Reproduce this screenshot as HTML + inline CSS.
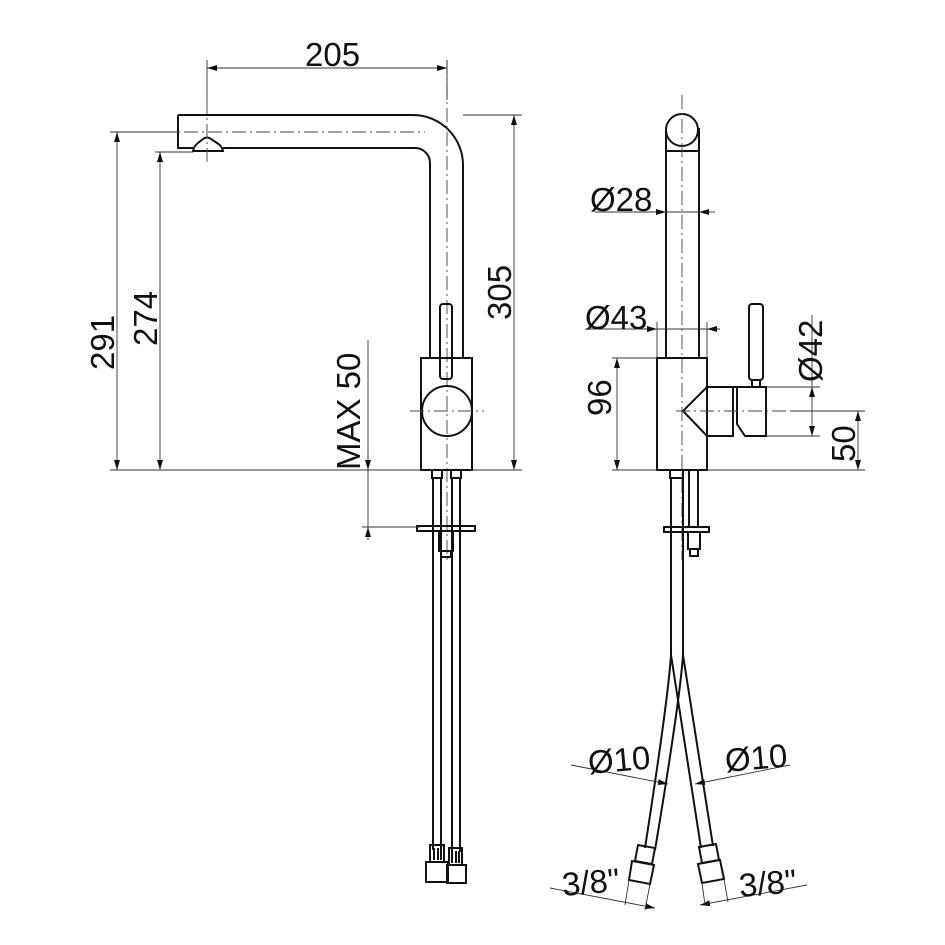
<!DOCTYPE html>
<html><head><meta charset="utf-8"><style>
html,body{margin:0;padding:0;background:#fff}
svg{display:block}
text{font-family:"Liberation Sans",sans-serif;font-size:33px;fill:#111}
.o{stroke:#111;stroke-width:2;fill:none}
.d{stroke:#333;stroke-width:0.9;fill:none}
.c{stroke:#444;stroke-width:0.9;fill:none;stroke-dasharray:14 4 2 4}
</style></head><body>
<svg width="945" height="945" viewBox="0 0 945 945" xmlns="http://www.w3.org/2000/svg">
<defs>
<marker id="a" viewBox="0 0 10 6" refX="10" refY="3" markerWidth="10" markerHeight="6" orient="auto-start-reverse" markerUnits="userSpaceOnUse"><path d="M0,0 L10,3 L0,6z" fill="#111"/></marker>
</defs>

<!-- LEFT VIEW -->
<path class="o" d="M178,115 H413 A50,50 0 0 1 463,165 V358"/>
<path class="o" d="M178,115 V148 H193"/>
<path class="o" d="M223,148 H415 A15,15 0 0 1 430,163 V358"/>
<path class="o" d="M193,151 Q194,146 198,143 L203,139 Q207,136 211,139 L217,143 Q222,146 223,151 Z"/>
<path class="c" d="M160,132 H425"/>
<path class="c" d="M207,100 V162"/>
<path class="c" d="M447,60 V560"/>
<rect class="o" x="421" y="358" width="51" height="112"/>
<rect class="o" x="440" y="304" width="12" height="75" rx="3"/>
<circle class="o" cx="447" cy="411" r="25"/>
<path class="c" d="M410,411 H484"/>
<rect class="o" x="432" y="470" width="10" height="8"/>
<rect class="o" x="451" y="470" width="10" height="8"/>
<path class="o" d="M433,478 V850 M441,478 V850 M452,478 V852 M460,478 V852"/>
<rect class="o" x="417" y="526" width="58" height="5" fill="#fff"/>
<rect class="o" x="439" y="531" width="14" height="20" fill="#fff"/>
<rect class="o" x="441" y="551" width="10" height="6" fill="#fff"/>
<g class="o">
<rect x="430" y="845" width="14" height="17"/>
<path d="M434,848 V860 M438,848 V860 M441,848 V860"/>
<rect x="426" y="862" width="22" height="20"/>
<rect x="449" y="848" width="13" height="17"/>
<path d="M452,851 V863 M456,851 V863 M459,851 V863"/>
<rect x="447" y="865" width="19" height="18"/>
</g>
<path class="d" d="M207,60 V100 M447,60 V100"/>
<path class="d" d="M207,68 H447" marker-start="url(#a)" marker-end="url(#a)"/>
<text x="305" y="66">205</text>
<path class="d" d="M110,132 H178 M110,470 H421 M155,152 H193 M472,470 H522 M463,115 H522"/>
<path class="d" d="M117,132 V470" marker-start="url(#a)" marker-end="url(#a)"/>
<path class="d" d="M160,152 V470" marker-start="url(#a)" marker-end="url(#a)"/>
<path class="d" d="M514,115 V470" marker-start="url(#a)" marker-end="url(#a)"/>
<text transform="translate(114,370) rotate(-90)">291</text>
<text transform="translate(157,346) rotate(-90)">274</text>
<text transform="translate(511,320) rotate(-90)">305</text>
<path class="d" d="M362,527 H420"/>
<path class="d" d="M368,340 V470"/>
<path class="d" d="M368,540 V527" marker-end="url(#a)"/>
<path class="d" d="M368,455 V470" marker-end="url(#a)"/>
<path class="d" d="M368,470 V527"/>
<text transform="translate(360,470) rotate(-90)">MAX 50</text>

<!-- RIGHT VIEW -->
<circle class="o" cx="682" cy="130" r="16"/>
<path class="o" d="M666,128 V358 M699,128 V358 M666,151 H699"/>
<path class="c" d="M682,95 V560"/>
<rect class="o" x="657" y="358" width="50" height="112"/>
<path class="o" d="M707,387 H733 V436 H707 L683,411 Z" fill="#fff"/>
<path class="o" d="M733,387 H766 V436 H745 L737,424 V387 Z"/>
<rect class="o" x="749" y="304" width="14" height="76" rx="3"/>
<rect class="o" x="752" y="380" width="8" height="7"/>
<path class="c" d="M676,411 H790"/>
<rect class="o" x="670" y="470" width="13" height="8"/>
<path class="o" d="M671,478 V655 M683,478 V655 M689,470 V527 M698,470 V527"/>
<rect class="o" x="664" y="527" width="45" height="5" fill="#fff"/>
<rect class="o" x="688" y="532" width="12" height="17" fill="#fff"/>
<rect class="o" x="690" y="549" width="8" height="7" fill="#fff"/>
<path class="o" d="M671,655 Q668,700 645,848 M683,655 Q680,700 655,850"/>
<path class="o" d="M671,655 Q678,700 701,848 M683,655 Q690,700 713,846"/>
<g class="o">
<path d="M638,845 L655,848 L652,864 L635,861 Z"/>
<path d="M632,861 L654,865 L650,884 L629,880 Z"/>
<path d="M699,847 L716,844 L719,860 L702,863 Z"/>
<path d="M698,864 L720,860 L724,879 L702,883 Z"/>
</g>
<path class="d" d="M595,212 H710"/>
<path class="d" d="M650,212 H666" marker-end="url(#a)"/>
<path class="d" d="M715,212 H699" marker-end="url(#a)"/>
<text x="590" y="211">Ø28</text>
<path class="d" d="M585,329 H720 M657,322 V358 M707,322 V358"/>
<path class="d" d="M645,329 H657" marker-end="url(#a)"/>
<path class="d" d="M719,329 H707" marker-end="url(#a)"/>
<text x="585" y="329">Ø43</text>
<path class="d" d="M612,358 H657 M612,470 H657"/>
<path class="d" d="M617,358 V470" marker-start="url(#a)" marker-end="url(#a)"/>
<text transform="translate(611,416) rotate(-90)">96</text>
<path class="d" d="M766,387 H820 M766,436 H820"/>
<path class="d" d="M812,315 V436" marker-end="url(#a)"/>
<path class="d" d="M812,400 V387" marker-end="url(#a)"/>
<text transform="translate(822,382) rotate(-90)">Ø42</text>
<path class="d" d="M790,411 H865 M707,470 H865"/>
<path class="d" d="M858,411 V470" marker-start="url(#a)" marker-end="url(#a)"/>
<text transform="translate(855,462) rotate(-90)">50</text>
<path class="d" d="M571,765 L668,784" marker-end="url(#a)"/>
<path class="d" d="M790,765 L695,784" marker-end="url(#a)"/>
<text transform="translate(589,774) rotate(-5)">Ø10</text>
<text transform="translate(726,772) rotate(-5)">Ø10</text>
<path class="d" d="M550,888 L655,908" marker-end="url(#a)"/>
<path class="d" d="M807,885 L700,905" marker-end="url(#a)"/>
<path class="d" d="M629,880 L625,905 M650,884 L645,910 M702,883 L705,905 M724,879 L728,902"/>
<text transform="translate(563,896) rotate(-5)">3/8"</text>
<text transform="translate(740,897) rotate(-5)">3/8"</text>
</svg>
</body></html>
